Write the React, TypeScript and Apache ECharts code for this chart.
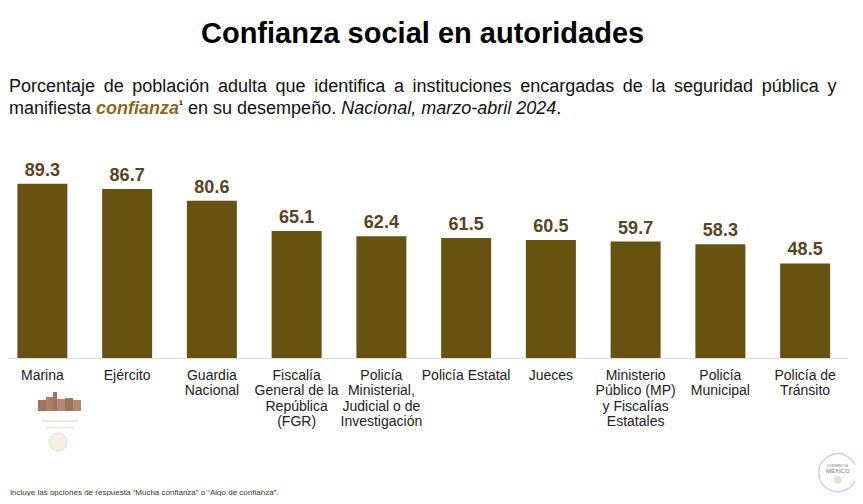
import React, { useEffect, useRef } from "react";
import * as echarts from "echarts";

const categories = [
  "Marina",
  "Ejército",
  "Guardia\nNacional",
  "Fiscalía\nGeneral de la\nRepública\n(FGR)",
  "Policía\nMinisterial,\nJudicial o de\nInvestigación",
  "Policía Estatal",
  "Jueces",
  "Ministerio\nPúblico (MP)\ny Fiscalías\nEstatales",
  "Policía\nMunicipal",
  "Policía de\nTránsito",
];
const confianza = [89.3, 86.7, 80.6, 65.1, 62.4, 61.5, 60.5, 59.7, 58.3, 48.5];

const titleText = "Confianza social en autoridades";
const subtitleLine1 =
  "Porcentaje de población adulta que identifica a instituciones encargadas de la seguridad pública y";
const footnote = "¹ Incluye las opciones de respuesta “Mucha confianza” o “Algo de confianza”.";

const NARROW = "'Liberation Sans Narrow', 'Arial Narrow', 'Liberation Sans', Arial, sans-serif";
const SANS = "'Liberation Sans', Arial, Helvetica, sans-serif";

// justified first line: widen each word gap with a thin space
const justifiedLine1 = subtitleLine1.split(" ").join(" \u2009");

export default function App() {
  const ref = useRef<HTMLDivElement>(null);
  useEffect(() => {
    if (!ref.current) return;
    const chart = echarts.init(ref.current, undefined, { renderer: "svg" });
    chart.setOption({
      animation: false,
      backgroundColor: "#ffffff",
      title: {
        text: titleText,
        left: 196,
        top: 13,
        textStyle: { fontFamily: SANS, fontSize: 29, fontWeight: "bold", color: "#000" },
      },
      grid: { left: -2.5, width: 850, top: 163, height: 195, containLabel: false },
      xAxis: {
        type: "category",
        data: categories,
        axisLine: { show: true, lineStyle: { color: "#dcdcdc", width: 1 } },
        axisTick: { show: false },
        axisLabel: {
          interval: 0,
          margin: 9,
          fontFamily: NARROW,
          fontSize: 14,
          lineHeight: 15.5,
          color: "#222",
        },
      },
      yAxis: { type: "value", min: 0, max: 100, show: false, splitLine: { show: false } },
      series: [
        {
          type: "bar",
          data: confianza,
          barWidth: 50,
          itemStyle: { color: "#67520f" },
          label: {
            show: true,
            position: "top",
            distance: 5,
            formatter: (p: any) => p.value.toFixed(1),
            fontFamily: SANS,
            fontSize: 18,
            fontWeight: "bold",
            color: "#5a4322",
          },
        },
      ],
      graphic: [
        {
          type: "text",
          left: 9,
          top: 77,
          style: {
            text: justifiedLine1,
            font: `18px ${SANS}`,
            fill: "#111",
          },
        },
        {
          type: "text",
          left: 9,
          top: 99,
          style: {
            text: "manifiesta {b|confianza}{s|¹} en su desempeño. {i|Nacional, marzo-abril 2024}.",
            fontFamily: SANS,
            fontSize: 18,
            fill: "#111",
            rich: {
              b: { fontFamily: SANS, fontSize: 18, fontWeight: "bold", fontStyle: "italic", fill: "#8a6a1c", color: "#8a6a1c" },
              s: { fontFamily: SANS, fontSize: 12, fontWeight: "bold", verticalAlign: "top", fill: "#111", color: "#111" },
              i: { fontFamily: SANS, fontSize: 18, fontStyle: "italic", fill: "#111", color: "#111" },
            },
          },
        },
        {
          type: "text",
          left: 5,
          top: 488,
          style: { text: footnote, font: `8px ${SANS}`, fill: "#333" },
        },
        {
          type: "group",
          left: 38,
          top: 392,
          children: [
            { type: "rect", shape: { x: 2, y: 10, width: 8, height: 11 }, style: { fill: "#8e5a42", opacity: 0.85 } },
            { type: "rect", shape: { x: 10, y: 7, width: 7, height: 14 }, style: { fill: "#9c6a4c", opacity: 0.85 } },
            { type: "rect", shape: { x: 17, y: 2, width: 4, height: 19 }, style: { fill: "#8e5a42", opacity: 0.85 } },
            { type: "rect", shape: { x: 21, y: 9, width: 8, height: 12 }, style: { fill: "#a87458", opacity: 0.85 } },
            { type: "rect", shape: { x: 29, y: 8, width: 8, height: 13 }, style: { fill: "#8e5a42", opacity: 0.85 } },
            { type: "rect", shape: { x: 37, y: 10, width: 8, height: 11 }, style: { fill: "#a87458", opacity: 0.85 } },
            { type: "rect", shape: { x: 6, y: 30, width: 36, height: 2 }, style: { fill: "#ebe6e0" } },
            { type: "rect", shape: { x: 10, y: 37, width: 28, height: 1.5 }, style: { fill: "#ece8e2" } },
            { type: "circle", shape: { cx: 22, cy: 52, r: 9 }, style: { fill: "#f3efe6", stroke: "#e5dccb", lineWidth: 1 } },
          ],
        },
        {
          type: "group",
          left: 818,
          top: 453,
          children: [
            { type: "circle", shape: { cx: 20, cy: 20, r: 19 }, style: { fill: "#fff", stroke: "#d9cccc", lineWidth: 1.5 } },
            { type: "text", x: 20, y: 11, style: { text: "GOBIERNO DE", font: `3px ${SANS}`, fill: "#777", align: "center" } },
            { type: "text", x: 20, y: 15, style: { text: "MÉXICO", font: `6px ${SANS}`, fill: "#777", align: "center" } },
            { type: "circle", shape: { cx: 20, cy: 27, r: 4 }, style: { fill: "#e9dfcf" } },
          ],
        },
      ],
    });
    return () => chart.dispose();
  }, []);
  return <div ref={ref} style={{ width: 863, height: 504, margin: -8 }} />;
}
